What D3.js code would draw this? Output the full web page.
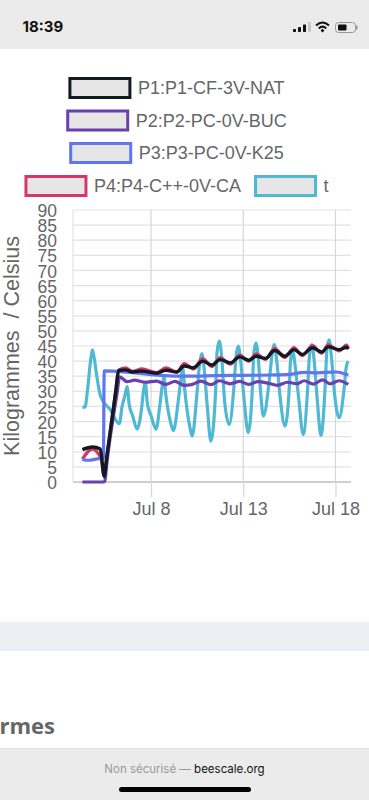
<!DOCTYPE html>
<html>
<head>
<meta charset="utf-8">
<script src="https://cdn.jsdelivr.net/npm/d3@7"></script>
<style>
html, body { margin: 0; padding: 0; background: #fff; overflow: hidden; }
svg { display: block; }
text { font-family: "Liberation Sans", sans-serif; }
</style>
</head>
<body>
<div id="chart"></div>
<script>
'use strict';

// days are fractional days of July
const yTicks = d3.range(0, 95, 5);
const dayTicks = [8, 13, 18];
const legendRows = [[0], [1], [2], [3, 4]];

const tDays = [4.28, 4.42, 4.55, 4.72, 4.82, 4.92, 5.06, 5.27, 5.78, 6.28, 6.43, 6.58, 6.70, 6.82, 7.00, 7.24, 7.50, 7.58, 7.69, 7.80, 8.00, 8.27,
    8.49, 8.60, 8.70, 8.80, 9.05, 9.21, 9.48, 9.62, 9.72, 9.82, 10.11, 10.23, 10.50, 10.63, 10.75, 10.87, 11.05, 11.24, 11.50, 11.58, 11.70, 11.82, 12.00, 12.24,
    12.50, 12.61, 12.73, 12.85, 13.05, 13.27, 13.50, 13.57, 13.69, 13.81, 13.95, 14.09, 14.40, 14.56, 14.68, 14.80, 15.00, 15.26, 15.50, 15.56, 15.68, 15.80, 16.00, 16.25,
    16.50, 16.59, 16.71, 16.83, 17.00, 17.21, 17.45, 17.53, 17.65, 17.77, 17.95, 18.20, 18.45, 18.58, 18.69];
const tValues = [24.8, 24.8, 30, 40, 43.7, 41, 35, 28.3, 24, 19.3, 25, 28.5, 31.6, 25.5, 22, 17.5, 25, 29.5, 33, 26, 22, 17.5,
    26, 31.5, 35, 29, 20, 17, 27, 34, 37.7, 31, 18, 15.2, 30, 39, 42.5, 38, 25, 13.5, 30, 43, 46.6, 42, 26, 19,
    32, 41.5, 45, 40.5, 27, 16.3, 32, 42.5, 46, 41, 29, 21.8, 33, 42, 45.5, 41, 28, 18.5, 32, 40, 43.3, 39, 28, 15.7,
    32, 42, 45.5, 41, 28, 15.4, 33, 43.5, 47, 42, 29, 21.3, 30, 38, 40];

const p1Days = [4.28, 4.82, 5.25, 5.46, 5.60, 6.10, 6.24, 6.60, 7.00, 7.50, 8.30, 8.80, 9.40, 9.80, 10.30, 10.80, 11.30, 11.75, 12.30,
    12.80, 13.30, 13.70, 14.20, 14.70, 15.25, 15.75, 16.20, 16.75, 17.25, 17.60, 18.20, 18.60, 18.69];
const p1Values = [10.7, 11.6, 10.9, 1.9, 8.2, 30.6, 36.9, 37.1, 36.4, 36.7, 36, 37, 36.4, 38.4, 37.8, 40, 38.7, 40.5, 39.4,
    41.4, 40.3, 41.6, 40.9, 43.5, 41.6, 43.8, 42.2, 44.4, 43, 44.7, 43.8, 44.6, 44];

const p2Days = [4.28, 5.45, 5.50, 5.60, 6.15, 6.30, 6.70, 7.10, 7.70, 8.30, 8.80, 9.30, 9.80, 10.20, 10.70, 11.25, 11.70, 12.30, 12.80,
    13.30, 13.80, 14.40, 14.85, 15.40, 15.90, 16.30, 16.80, 17.30, 17.70, 18.20, 18.69];
const p2Values = [0, 0, 0.4, 6, 29, 34.8, 33.2, 33.7, 33, 33.4, 32.3, 33.3, 32, 32.2, 33.4, 32.2, 33.5, 32.5, 33.3,
    32.3, 33.2, 32.6, 32, 33, 32.5, 33.5, 32.4, 33.8, 32.5, 33.5, 32.3];

const p3Days = [4.28, 4.60, 5.30, 5.42, 5.46, 7.00, 8.50, 10.10, 11.50, 13.00, 14.50, 15.50, 16.30, 17.00, 18.00, 18.40, 18.69];
const p3Values = [7.5, 7.2, 7.8, 7.8, 36.8, 36.2, 35.3, 35, 35.2, 35.3, 35.4, 35.6, 36.3, 36.1, 36.4, 36, 35.4];

const p4Days = [4.28, 4.82, 5.30, 5.46, 5.60, 6.10, 6.24, 6.60, 7.00, 7.50, 8.30, 8.80, 9.40, 9.80, 10.30, 10.80, 11.30, 11.75, 12.30,
    12.80, 13.30, 13.70, 14.20, 14.70, 15.25, 15.75, 16.20, 16.75, 17.25, 17.60, 18.20, 18.60, 18.69];
const p4Values = [7.6, 10.9, 7.6, 2.2, 8.3, 30.7, 37, 37.8, 36.6, 37.4, 36.2, 37.8, 36.4, 39.2, 37.4, 40.8, 38.2, 41.2, 39, 42,
    40, 42.4, 40.6, 44.2, 41.2, 44.5, 41.8, 45.1, 42.6, 45.4, 43.4, 45.3, 44.2];

const series = [
    { name: "P1:P1-CF-3V-NAT", color: "#111a22", days: p1Days, values: p1Values, order: 4 },
    { name: "P2:P2-PC-0V-BUC", color: "#6a3fb0", days: p2Days, values: p2Values, order: 3 },
    { name: "P3:P3-PC-0V-K25", color: "#6274ee", days: p3Days, values: p3Values, order: 2 },
    { name: "P4:P4-C++-0V-CA", color: "#d8356a", days: p4Days, values: p4Values, order: 1 },
    { name: "t", color: "#4fb9d3", days: tDays, values: tValues, order: 0 }
];

const toDate = (d) => new Date(Date.UTC(2019, 6, 0) + d * 864e5);

const W = 369, H = 800;
const margin = { top: 210, right: 18, bottom: 318, left: 73 };
const width = W - margin.left - margin.right,
    height = H - margin.top - margin.bottom;

const svgRoot = d3.select("#chart").append("svg")
    .attr("width", W)
    .attr("height", H);

// page around the chart
svgRoot.append("rect").attr("width", W).attr("height", 49).attr("fill", "#ebebeb");
svgRoot.append("rect").attr("y", 622).attr("width", W).attr("height", 29).attr("fill", "#ecf0f4");
svgRoot.append("rect").attr("y", 748).attr("width", W).attr("height", 52).attr("fill", "#ebebeb");
svgRoot.append("line").attr("x1", 0).attr("x2", W).attr("y1", 748.5).attr("y2", 748.5).attr("stroke", "#dedede");

svgRoot.append("text").attr("x", 22.5).attr("y", 32).attr("fill", "#111")
    .style("font-size", "15px").style("font-weight", "bold").style("font-family", "Inter, sans-serif").text("18:39");

// signal bars
[[293, 29, 3, 3, "#111"], [298, 27, 3, 5, "#111"], [303, 24.5, 3, 7.5, "#111"], [308, 22, 3, 10, "#c8c8c8"]].forEach((b) => {
    svgRoot.append("rect").attr("x", b[0]).attr("y", b[1]).attr("width", b[2]).attr("height", b[3]).attr("rx", 0.7).attr("fill", b[4]);
});
// wifi
svgRoot.append("path").attr("d", "M316 25.5 Q322.5 19.5 329 25.5 M318.8 28.4 Q322.5 25 326.2 28.4").attr("fill", "none")
    .attr("stroke", "#111").attr("stroke-width", 2.1);
svgRoot.append("path").attr("d", "M320.6 30.4 L322.5 28.8 L324.4 30.4 L322.5 32.4 Z").attr("fill", "#111");
// battery
svgRoot.append("rect").attr("x", 335.5).attr("y", 22.5).attr("width", 20).attr("height", 10).attr("rx", 3).attr("fill", "none").attr("stroke", "#999");
svgRoot.append("rect").attr("x", 338).attr("y", 24.5).attr("width", 8.5).attr("height", 6).attr("rx", 1).attr("fill", "#111");
svgRoot.append("rect").attr("x", 356).attr("y", 25.5).attr("width", 1.5).attr("height", 4).attr("fill", "#999");

svgRoot.append("text").attr("x", 55).attr("y", 734).attr("text-anchor", "end").attr("fill", "#666")
    .style("font-family", "'Open Sans', sans-serif").style("font-weight", "bold").style("font-size", "22px").text("armes");

const url = svgRoot.append("text").attr("x", 184.5).attr("y", 772.5).attr("text-anchor", "middle")
    .style("font-family", "Inter, sans-serif").style("font-size", "11.5px");
url.append("tspan").attr("fill", "#999").text("Non sécurisé — ");
url.append("tspan").attr("fill", "#111").text("beescale.org");

svgRoot.append("rect").attr("x", 119).attr("y", 787).attr("width", 132).attr("height", 5).attr("rx", 2.5).attr("fill", "#000");

// legend
const legendY = [88, 120.5, 153, 186];
const boxW = 60, boxH = 19;
legendRows.forEach((row, i) => {
    const g = svgRoot.append("g");
    let cx = 0;
    row.forEach((k) => {
        const s = series[k];
        g.append("rect")
            .attr("x", cx + 1.5).attr("y", legendY[i] - boxH / 2)
            .attr("width", boxW).attr("height", boxH)
            .attr("fill", "#e6e6e6").attr("stroke", s.color).attr("stroke-width", 3);
        const label = g.append("text")
            .attr("x", cx + boxW + 9.5).attr("y", legendY[i] + 6)
            .attr("fill", "#666").style("font-size", "18px").text(s.name);
        cx += boxW + 9.5 + label.node().getComputedTextLength() + 13;
    });
    g.attr("transform", "translate(" + (176.5 - (cx - 13) / 2) + ",0)");
});

const svg = svgRoot.append("g")
    .attr("transform", "translate(" + margin.left + "," + margin.top + ")");

const x = d3.scaleUtc()
    .domain([toDate(3.77), toDate(18.84)])
    .range([0, width]);

const y = d3.scaleLinear()
    .domain([0, 90])
    .range([height, 0]);

const xAxis = d3.axisBottom(x)
    .tickValues(dayTicks.map(toDate))
    .tickFormat(d3.utcFormat("%b %-d"))
    .tickSize(15)
    .tickPadding(5);

const yAxis = d3.axisLeft(y)
    .tickValues(yTicks)
    .tickSize(0)
    .tickPadding(16);

// horizontal grid
svg.append("g").selectAll("line").data(yTicks).join("line")
    .attr("x1", 0).attr("x2", width)
    .attr("y1", (d) => y(d)).attr("y2", (d) => y(d))
    .attr("stroke", (d) => d === 0 ? "#a0a0a0" : "#e2e2e2")
    .attr("stroke-width", 1.2);

// vertical grid
svg.append("g").selectAll("line").data(dayTicks.map(toDate)).join("line")
    .attr("x1", (d) => x(d)).attr("x2", (d) => x(d))
    .attr("y1", 0).attr("y2", height)
    .attr("stroke", "#d6d6d6").attr("stroke-width", 1.2);
svg.append("line").attr("x1", 0).attr("x2", 0).attr("y1", 0).attr("y2", height)
    .attr("stroke", "#e2e2e2").attr("stroke-width", 1.2);

const gx = svg.append("g")
    .attr("transform", "translate(0," + height + ")")
    .call(xAxis);
gx.select(".domain").remove();
gx.selectAll("line").attr("stroke", "#d6d6d6").attr("stroke-width", 1.2);
gx.selectAll("text").attr("fill", "#666").style("font-size", "18px");

const gy = svg.append("g").call(yAxis);
gy.select(".domain").remove();
gy.selectAll("text").attr("fill", "#666").attr("dy", "0.38em").style("font-size", "17.5px");

svg.append("text")
    .attr("transform", "translate(-54," + (height / 2 - 0) + ") rotate(-90)")
    .attr("y", 0)
    .attr("text-anchor", "middle")
    .attr("fill", "#666")
    .style("font-size", "21.5px")
    .style("white-space", "pre")
    .text("Kilogrammes  / Celsius");

const line = d3.line()
    .x((d) => x(toDate(d[0])))
    .y((d) => y(d[1]))
    .curve(d3.curveMonotoneX);

series.slice().sort((a, b) => a.order - b.order).forEach((s) => {
    svg.append("path")
        .datum(s.days.map((d, i) => [d, s.values[i]]))
        .style("fill", "none")
        .style("stroke", s.color)
        .style("stroke-width", s.name === "P1:P1-CF-3V-NAT" ? "3.4px" : "3.2px")
        .style("stroke-linejoin", "round")
        .attr("d", line);
});
</script>
</body>
</html>
